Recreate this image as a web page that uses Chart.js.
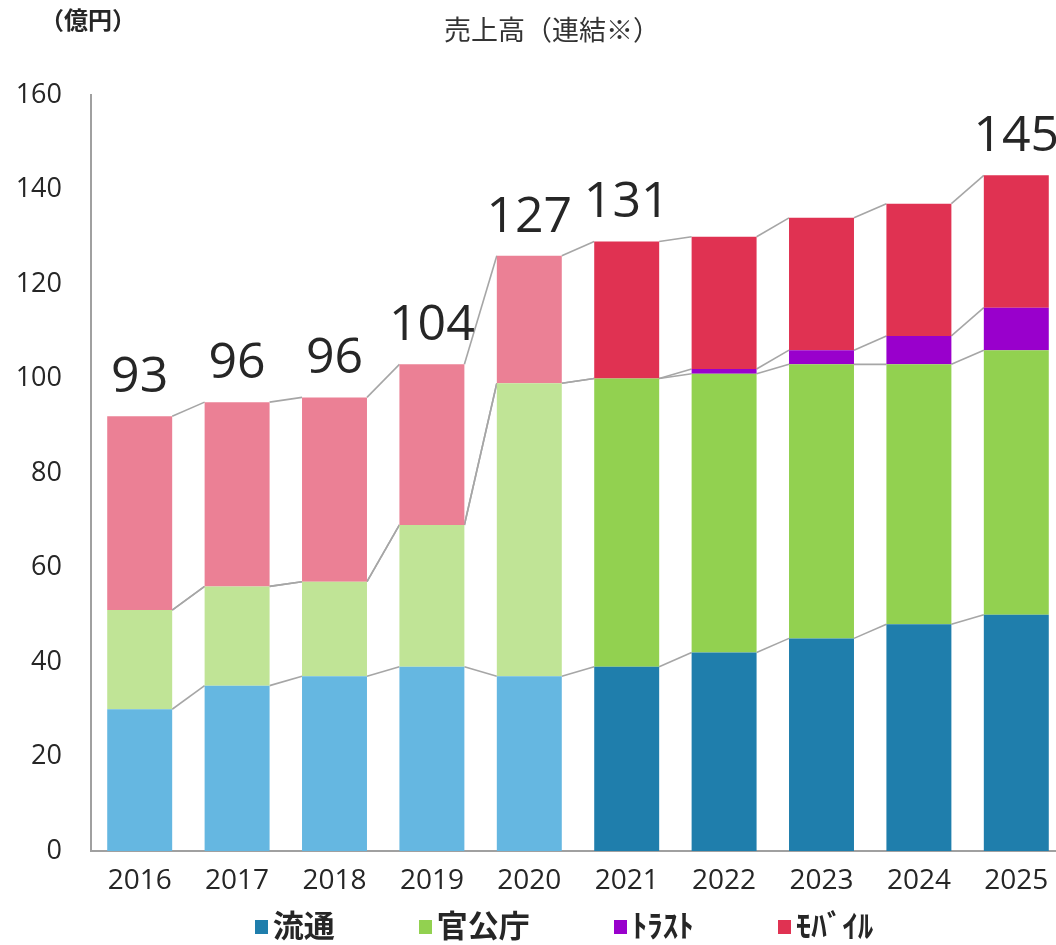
<!DOCTYPE html>
<html lang="ja">
<head>
<meta charset="utf-8">
<script src="https://cdn.jsdelivr.net/npm/chart.js@4.4.1/dist/chart.umd.min.js"></script>
<style>
  html, body { margin:0; padding:0; background:#fff; width:1056px; height:945px; overflow:hidden; }
  #wrap { position:relative; width:1056px; height:945px; overflow:hidden; }
  #c { position:absolute; left:0; top:0; }
  .unit { position:absolute; left:40px; top:1px; font-family:"Noto Sans CJK JP",sans-serif; font-weight:bold; font-size:24px; color:#262626; }
  .title { position:absolute; left:0; width:1104px; top:9px; text-align:center; font-family:"Noto Sans CJK JP",sans-serif; font-size:27px; color:#333; }
  #legend { position:absolute; top:896px; left:0; width:1128px; text-align:center; font-family:"Noto Sans CJK JP",sans-serif; font-weight:bold; font-size:31px; color:#262626; white-space:nowrap; }
  #legend span.item { display:inline-block; margin:0 42px; vertical-align:middle; }
  #legend span.box { display:inline-block; width:13px; height:14px; margin-right:5px; vertical-align:middle; position:relative; top:-2px; }
</style>
</head>
<body>
<div id="wrap">
  <canvas id="c" width="1070" height="945"></canvas>
  <div class="unit">（億円）</div>
  <div class="title">売上高（連結※）</div>
  <div id="legend"></div>
</div>
<script>
// ---- data ----
const years = ['2016','2017','2018','2019','2020','2021','2022','2023','2024','2025'];
const seriesNames = ['流通','官公庁','ﾄﾗｽﾄ','ﾓﾊﾞｲﾙ'];
const ryutsu   = [30, 35, 37, 39, 37, 39, 42, 45, 48, 50];
const kankocho = [21, 21, 20, 30, 62, 61, 59, 58, 55, 56];
const trust    = [ 0,  0,  0,  0,  0,  0,  1,  3,  6,  9];
const mobile   = [41, 39, 39, 34, 27, 29, 28, 28, 28, 28];
const totalLabels = ['93','96','96','104','127','131',null,null,null,'145'];
const yTicks = [0, 20, 40, 60, 80, 100, 120, 140, 160];

// ---- styles ----
const lightCount = 5; // first five years drawn in lighter shades
const darkColors  = ['#1F7EAC','#92D150','#9900CC','#E03252'];
const lightColors = ['#65B7E1','#C0E496','#C080E0','#EB8095'];
function colorsFor(si){ return years.map((_,i)=> i < lightCount ? lightColors[si] : darkColors[si]); }

const seriesValues = [ryutsu, kankocho, trust, mobile];

// HTML legend
const lg = document.getElementById('legend');
seriesNames.forEach((n,i)=>{
  const it = document.createElement('span'); it.className='item';
  const b = document.createElement('span'); b.className='box'; b.style.background = darkColors[i];
  it.appendChild(b); it.appendChild(document.createTextNode(n)); lg.appendChild(it);
});

const connectors = {
  id:'connectors',
  beforeDatasetsDraw(chart){
    const ctx = chart.ctx;
    ctx.save();
    ctx.strokeStyle = '#A6A6A6';
    ctx.lineWidth = 1.6;
    chart.data.datasets.forEach((ds, di)=>{
      const meta = chart.getDatasetMeta(di);
      for (let i=0;i<meta.data.length-1;i++){
        const a = meta.data[i], b = meta.data[i+1];
        ctx.beginPath();
        ctx.moveTo(a.x + a.width/2, a.y);
        ctx.lineTo(b.x - b.width/2, b.y);
        ctx.stroke();
      }
    });
    ctx.restore();
  }
};

const totals = {
  id:'totals',
  afterDatasetsDraw(chart){
    const ctx = chart.ctx;
    const last = chart.getDatasetMeta(chart.data.datasets.length-1);
    ctx.save();
    ctx.font = '50px "Open Sans", "Noto Sans", sans-serif';
    ctx.fillStyle = '#262626';
    ctx.textAlign = 'center';
    ctx.textBaseline = 'alphabetic';
    last.data.forEach((el,i)=>{
      const t = totalLabels[i];
      if (t) ctx.fillText(t, el.x, el.y - 24);
    });
    ctx.restore();
  }
};

new Chart(document.getElementById('c'), {
  type:'bar',
  data:{
    labels: years,
    datasets: seriesValues.map((vals, si)=>({
      label: seriesNames[si],
      data: vals,
      backgroundColor: colorsFor(si),
      borderWidth: 0,
      barPercentage: 0.667,
      categoryPercentage: 1.0
    }))
  },
  options:{
    responsive:false,
    animation:false,
    layout:{ padding:{ left:0, right:5, top:95, bottom:0 } },
    plugins:{ legend:{ display:false }, tooltip:{ enabled:false }, title:{ display:false } },
    scales:{
      x:{
        stacked:true,
        grid:{ display:false, drawTicks:false },
        border:{ display:true, color:'#A0A0A0', width:2 },
        ticks:{ padding:13, color:'#262626', font:{ family:'"Open Sans", "Noto Sans", sans-serif', size:28 } },
        afterFit(scale){ scale.height = 94; }
      },
      y:{
        stacked:true,
        min:0, max:160,
        afterBuildTicks(scale){ scale.ticks = yTicks.map(v=>({ value:v })); },
        grid:{ display:false, drawTicks:false },
        border:{ display:true, color:'#A0A0A0', width:2 },
        ticks:{ padding:29, color:'#262626', font:{ family:'"Open Sans", "Noto Sans", sans-serif', size:27 } },
        afterFit(scale){ scale.width = 91; }
      }
    }
  },
  plugins:[connectors, totals]
});
</script>
</body>
</html>
